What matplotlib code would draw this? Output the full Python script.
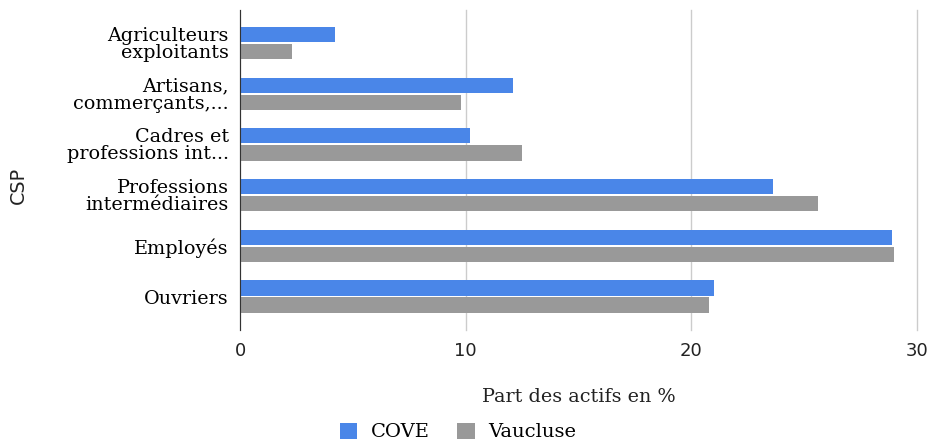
import numpy as np
import matplotlib.pyplot as plt

categories = ["Agriculteurs\nexploitants", "Artisans,\ncommerçants,...",
              "Cadres et\nprofessions int...", "Professions\nintermédiaires",
              "Employés", "Ouvriers"]
cove = [4.2, 12.1, 10.2, 23.6, 28.9, 21.0]
vaucluse = [2.3, 9.8, 12.5, 25.6, 29.0, 20.8]
series_names = ["COVE", "Vaucluse"]
colors = ["#4a86e8", "#999999"]

fig = plt.figure(figsize=(9.31, 4.42), dpi=100)
ax = fig.add_axes([240 / 931, 1 - 330 / 442, 677 / 931, 320 / 442])

y = np.arange(len(categories))
h = 0.3
ax.barh(y - 0.168, cove, height=h, color=colors[0], label=series_names[0], zorder=3)
ax.barh(y + 0.168, vaucluse, height=h, color=colors[1], label=series_names[1], zorder=3)

ax.set_xlim(0, 30)
ax.set_ylim(len(categories) - 0.34, -0.65)
ax.set_xticks([0, 10, 20, 30])
ax.set_yticks(y)
ax.set_yticklabels(categories, fontfamily="DejaVu Serif", fontsize=13.8,
                   linespacing=0.92)
ax.tick_params(axis="y", length=0, pad=8)
ax.tick_params(axis="x", length=0, pad=9, labelsize=13, labelcolor="#222222")
ax.grid(axis="x", color="#cccccc", linewidth=1, zorder=0)
for gl in ax.get_xgridlines():
    gl.set_clip_on(False)
for s in ["top", "right", "bottom"]:
    ax.spines[s].set_visible(False)
ax.spines["left"].set_color("#333333")
ax.spines["left"].set_zorder(4)

ax.set_xlabel("Part des actifs en %", fontfamily="DejaVu Serif", fontsize=13.8,
              labelpad=20, color="#222222")
fig.text(18 / 931, 1 - 185 / 442, "CSP", rotation=90, ha="center", va="center",
         fontsize=13.8, color="#222222")

leg = fig.legend(loc="center", bbox_to_anchor=(458 / 931, 1 - 432 / 442), ncol=2,
                 frameon=False, prop={"family": "DejaVu Serif", "size": 14},
                 handlelength=0.9, handleheight=0.9, columnspacing=1.4,
                 handletextpad=0.7, borderpad=0)

fig.savefig("out.png", dpi=100)
